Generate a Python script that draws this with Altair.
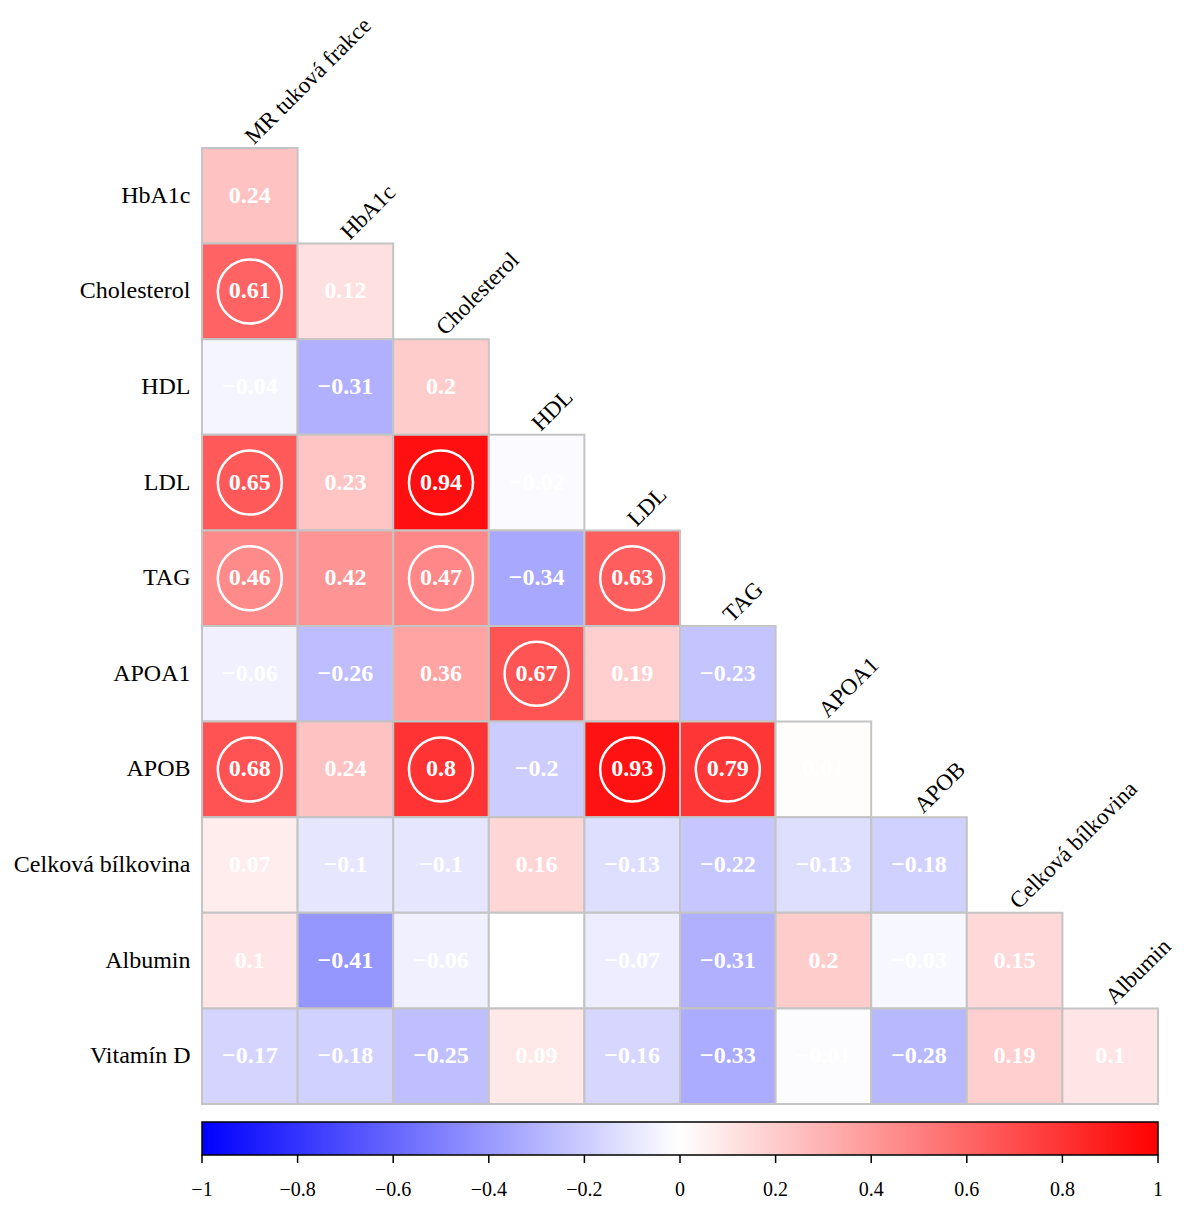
import altair as alt
import pandas as pd

rows = ["HbA1c", "Cholesterol", "HDL", "LDL", "TAG", "APOA1", "APOB",
        "Celková bílkovina", "Albumin", "Vitamín D"]
cols = ["MR tuková frakce", "HbA1c", "Cholesterol", "HDL", "LDL", "TAG",
        "APOA1", "APOB", "Celková bílkovina", "Albumin"]

values = [
    [0.24],
    [0.61, 0.12],
    [-0.04, -0.31, 0.2],
    [0.65, 0.23, 0.94, -0.02],
    [0.46, 0.42, 0.47, -0.34, 0.63],
    [-0.06, -0.26, 0.36, 0.67, 0.19, -0.23],
    [0.68, 0.24, 0.8, -0.2, 0.93, 0.79, 0.01],
    [0.07, -0.1, -0.1, 0.16, -0.13, -0.22, -0.13, -0.18],
    [0.1, -0.41, -0.06, 0, -0.07, -0.31, 0.2, -0.03, 0.15],
    [-0.17, -0.18, -0.25, 0.09, -0.16, -0.33, -0.01, -0.28, 0.19, 0.1],
]
significant = [
    [0],
    [1, 0],
    [0, 0, 0],
    [1, 0, 1, 0],
    [1, 0, 1, 0, 1],
    [0, 0, 0, 1, 0, 0],
    [1, 0, 1, 0, 1, 1, 0],
    [0, 0, 0, 0, 0, 0, 0, 0],
    [0, 0, 0, 0, 0, 0, 0, 0, 0],
    [0, 0, 0, 0, 0, 0, 0, 0, 0, 0],
]
bar_ticks = [-1, -0.8, -0.6, -0.4, -0.2, 0, 0.2, 0.4, 0.6, 0.8, 1]


def fmt(v):
    return f"{v:g}".replace("-", "\u2212")


recs = []
for i, r in enumerate(rows):
    for j, v in enumerate(values[i]):
        recs.append({"row": r, "col": cols[j], "value": v,
                     "label": fmt(v), "sig": significant[i][j]})
df = pd.DataFrame(recs)
col_df = pd.DataFrame({"col": cols, "row": rows})
tick_df = pd.DataFrame({"t": bar_ticks, "label": [fmt(t) for t in bar_ticks]})

SERIF = "Liberation Serif"
W = 956
H = 956

xs = alt.X("col:N", scale=alt.Scale(domain=cols, paddingInner=0, paddingOuter=0), axis=None)
ys = alt.Y("row:N", scale=alt.Scale(domain=rows, paddingInner=0, paddingOuter=0),
           axis=alt.Axis(title=None, domain=False, ticks=False, labelFont=SERIF,
                         labelFontSize=24, labelColor="black", labelPadding=12))

color = alt.Color("value:Q", scale=alt.Scale(domain=[-1, 0, 1],
                                             range=["#0000FF", "#FFFFFF", "#FF0000"],
                                             interpolate="rgb"), legend=None)

base = alt.Chart(df)
heat = base.mark_rect(stroke="#c4c4c4", strokeWidth=2).encode(x=xs, y=ys, color=color)
circles = base.transform_filter("datum.sig == 1").mark_point(
    shape="circle", size=4100, filled=False, stroke="white", strokeWidth=2.5, opacity=1
).encode(x=xs, y=ys)
labels = base.mark_text(font=SERIF, fontSize=24, fontWeight="bold", color="white").encode(
    x=xs, y=ys, text="label:N")

col_labels = alt.Chart(col_df).mark_text(
    font=SERIF, fontSize=23, color="black", angle=315, align="left",
    baseline="alphabetic", dx=5, dy=1
).encode(
    x=xs,
    y=alt.Y("row:N", bandPosition=0,
            scale=alt.Scale(domain=rows, paddingInner=0, paddingOuter=0)),
    text="col:N",
)

grad = alt.LinearGradient(
    gradient="linear",
    stops=[alt.GradientStop(offset=0, color="#0000FF"),
           alt.GradientStop(offset=0.5, color="#FFFFFF"),
           alt.GradientStop(offset=1, color="#FF0000")],
    x1=0, x2=1, y1=0, y2=0,
)
bar = alt.Chart(tick_df.head(1)).mark_rect(color=grad, stroke="black", strokeWidth=1.5).encode(
    x=alt.value(0), x2=alt.value(W), y=alt.value(974), y2=alt.value(1007))

tx = alt.X("t:Q", scale=alt.Scale(domain=[-1, 1], nice=False, zero=False), axis=None)
bar_ticks_mark = alt.Chart(tick_df).mark_rule(color="black", strokeWidth=1.5).encode(
    x=tx, y=alt.value(1007), y2=alt.value(1015))
bar_labels = alt.Chart(tick_df).mark_text(font=SERIF, fontSize=20, color="black",
                                           baseline="middle").encode(
    x=tx, y=alt.value(1042), text="label:N")

chart = alt.layer(heat, circles, labels, col_labels, bar, bar_ticks_mark, bar_labels).resolve_scale(
    x="independent"
).properties(
    width=W, height=H,
    autosize=alt.AutoSizeParams(type="none"),
    padding={"left": 194, "top": 140, "right": 18, "bottom": 96},
).configure_view(stroke=None)

chart.save("out.html", embed_options={"renderer": "svg", "actions": False})
